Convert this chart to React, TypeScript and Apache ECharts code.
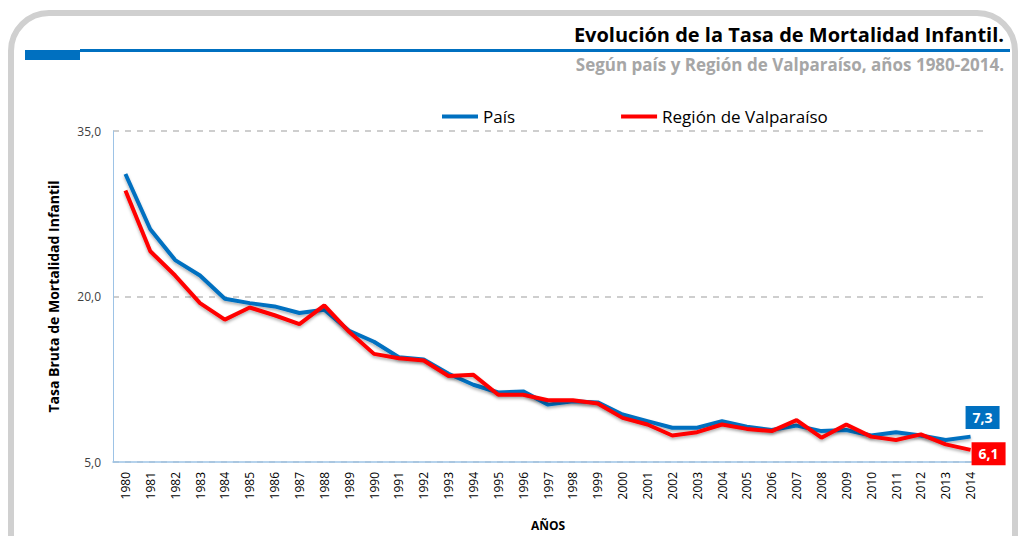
import React, { useEffect, useRef } from "react";
import * as echarts from "echarts";

const years = [
  "1980","1981","1982","1983","1984","1985","1986","1987","1988","1989",
  "1990","1991","1992","1993","1994","1995","1996","1997","1998","1999",
  "2000","2001","2002","2003","2004","2005","2006","2007","2008","2009",
  "2010","2011","2012","2013","2014",
];
const pais = [
  31.1, 26.1, 23.3, 21.9, 19.8, 19.4, 19.1, 18.5, 18.8, 16.9,
  15.9, 14.5, 14.3, 13.0, 12.0, 11.3, 11.4, 10.2, 10.5, 10.4,
  9.3, 8.7, 8.1, 8.1, 8.7, 8.2, 7.9, 8.3, 7.8, 7.9,
  7.4, 7.7, 7.4, 7.0, 7.3,
];
const valparaiso = [
  29.6, 24.1, 21.9, 19.4, 17.9, 19.0, 18.3, 17.5, 19.2, 16.8,
  14.8, 14.4, 14.2, 12.8, 12.9, 11.1, 11.1, 10.6, 10.6, 10.3,
  9.0, 8.4, 7.4, 7.7, 8.4, 8.0, 7.8, 8.8, 7.2, 8.4,
  7.3, 7.0, 7.5, 6.6, 6.1,
];
const yTicks = { min: 5, max: 35, interval: 15 };
const titleText = "Evolución de la Tasa de Mortalidad Infantil.";
const subtitleText = "Según país y Región de Valparaíso, años 1980-2014.";
const FONT = "'Open Sans', sans-serif";

function fmt(v: number) {
  return v.toFixed(1).replace(".", ",");
}

function endLabel(color: string, offset: [number, number]) {
  return {
    show: true,
    distance: 0,
    offset,
    formatter: (p: any) => fmt(Number(p.value)),
    color: "#fff",
    fontWeight: "bold",
    fontSize: 14,
    fontFamily: FONT,
    backgroundColor: color,
    padding: [5, 7, 4, 7],
  };
}

export default function App() {
  const ref = useRef<HTMLDivElement>(null);
  useEffect(() => {
    document.body.style.margin = "0";
    const chart = echarts.init(ref.current!, undefined, { renderer: "svg" });
    chart.setOption({
      animation: false,
      backgroundColor: "#fff",
      textStyle: { fontFamily: FONT },
      graphic: [
        {
          type: "rect",
          shape: { x: 11, y: 13, width: 1004, height: 580, r: 38 },
          style: { fill: "none", stroke: "#d0d0d0", lineWidth: 6 },
          z: 0,
        },
        {
          type: "rect",
          shape: { x: 80, y: 49, width: 930, height: 3 },
          style: { fill: "#0070C0" },
        },
        {
          type: "rect",
          shape: { x: 25, y: 50, width: 55, height: 10 },
          style: { fill: "#0070C0" },
        },
        {
          type: "text",
          right: 15,
          top: 24,
          style: {
            text: titleText,
            font: `bold 20px ${FONT}`,
            fill: "#000",
          },
        },
        {
          type: "text",
          right: 15,
          top: 56,
          style: {
            text: subtitleText,
            font: `bold 17px ${FONT}`,
            fill: "#a6a6a6",
          },
        },
      ],
      legend: {
        left: 437,
        top: 103,
        itemWidth: 36,
        itemHeight: 4,
        itemGap: 106,
        textStyle: { fontSize: 17, color: "#000", fontFamily: FONT },
        data: [
          { name: "País", icon: "rect" },
          { name: "Región de Valparaíso", icon: "rect" },
        ],
      },
      grid: { left: 113, right: 36, top: 131, bottom: 72 },
      xAxis: {
        type: "category",
        data: years,
        boundaryGap: true,
        name: "AÑOS",
        nameLocation: "middle",
        nameGap: 57,
        nameTextStyle: { fontWeight: "bold", fontSize: 12, color: "#000" },
        axisLine: { lineStyle: { color: "#9dc3e6", width: 1.5 } },
        axisTick: { show: false },
        axisLabel: { rotate: 90, fontSize: 12, color: "#000", margin: 10, interval: 0 },
      },
      yAxis: {
        type: "value",
        min: yTicks.min,
        max: yTicks.max,
        interval: yTicks.interval,
        name: "Tasa Bruta de Mortalidad Infantil",
        nameLocation: "middle",
        nameGap: 53,
        nameTextStyle: { fontWeight: "bold", fontSize: 14, color: "#000" },
        axisLine: { show: true, lineStyle: { color: "#9dc3e6" } },
        axisTick: { show: false },
        axisLabel: { formatter: (v: number) => fmt(v), fontSize: 12, color: "#404040", margin: 12 },
        splitLine: { lineStyle: { type: [6, 6], color: "#bfbfbf", width: 1.5 } },
      },
      series: [
        {
          name: "País",
          type: "line",
          data: pais,
          symbol: "none",
          color: "#0070C0",
          lineStyle: { width: 4, color: "#0070C0", shadowBlur: 3, shadowColor: "rgba(0,0,0,0.3)", shadowOffsetY: 2 },
          endLabel: endLabel("#0070C0", [-5, -19]),
          z: 2,
        },
        {
          name: "Región de Valparaíso",
          type: "line",
          data: valparaiso,
          symbol: "none",
          color: "#FF0000",
          lineStyle: { width: 4, color: "#FF0000", shadowBlur: 3, shadowColor: "rgba(0,0,0,0.3)", shadowOffsetY: 2 },
          endLabel: endLabel("#FF0000", [1, 4]),
          z: 3,
        },
      ],
    });
    return () => chart.dispose();
  }, []);
  return <div ref={ref} style={{ width: 1019, height: 536 }} />;
}
